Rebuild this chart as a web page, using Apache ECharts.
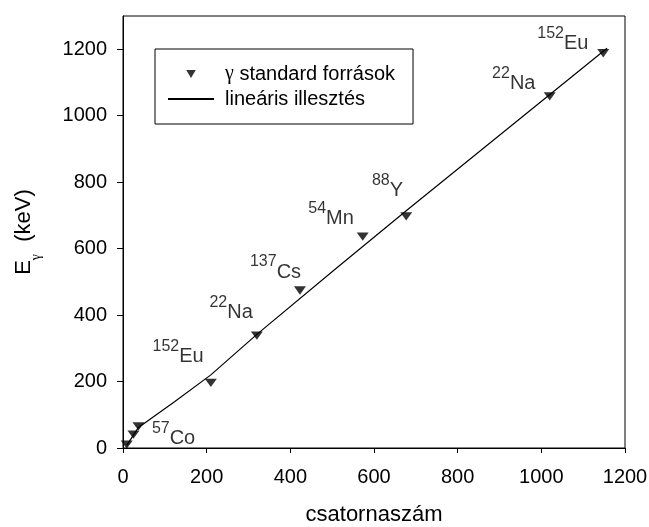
<!DOCTYPE html>
<html><head><meta charset="utf-8">
<script src="https://cdn.jsdelivr.net/npm/echarts@6/dist/echarts.min.js"></script>
<style>html,body{margin:0;padding:0;background:#fff}#c{width:649px;height:527px}</style>
</head><body><div id="c"></div>
<script>
// ---- data ----
const channels = [9, 25, 37, 210, 320, 423, 573, 677, 1020, 1148];
const energies = [10, 40, 65, 196, 338, 474, 636, 697, 1058, 1188];
const massNumbers = ['', '', '57', '152', '22', '137', '54', '88', '22', '152'];
const elements = ['', '', 'Co', 'Eu', 'Na', 'Cs', 'Mn', 'Y', 'Na', 'Eu'];
const fitChannels = [9, 37, 124, 210, 320, 507, 677, 1157];
const fitEnergies = [8, 62, 140, 220, 342, 538, 714, 1203];
const xTicks = [0, 200, 400, 600, 800, 1000, 1200];
const yTicks = [0, 200, 400, 600, 800, 1000, 1200];
const seriesNames = ['γ standard források', 'lineáris illesztés'];
const xName = 'csatornaszám';
const yNameParts = ['E', 'γ', '  (keV)'];

// ---- layout / style ----
const labelOffsets = [null, null, [13.4, -5.7], [-58.3, -44], [-47.4, -40.7], [-50, -36.4],
  [-54.4, -35.7], [-34.3, -43.4], [-57.6, -30.7], [-66, -28]];
const FONT = 'Liberation Sans';
const SERIF = 'Liberation Serif';
const tri = 'path://M0,0L12,0L6,10Z';
const labelRich = {
  s: { fontFamily: FONT, fontSize: 16, lineHeight: 16, verticalAlign: 'top', color: '#000' },
  m: { fontFamily: FONT, fontSize: 20, lineHeight: 28, verticalAlign: 'bottom', color: '#000' }
};

const scatterData = channels.map((x, i) => {
  const item = { value: [x, energies[i]] };
  if (massNumbers[i]) {
    item.label = {
      show: true, position: 'inside', align: 'left', verticalAlign: 'top',
      offset: labelOffsets[i], rich: labelRich,
      formatter: '{s|' + massNumbers[i] + '}{m|' + elements[i] + '}'
    };
  }
  return item;
});
const fitData = fitChannels.map((x, i) => [x, fitEnergies[i]]);

const chart = echarts.init(document.getElementById('c'), null, { renderer: 'canvas' });
chart.setOption({
  animation: false,
  backgroundColor: '#fff',
  grid: {
    left: 123, right: 24, top: 16, bottom: 79, containLabel: false, outerBoundsMode: 'none',
    show: true, borderColor: '#000', borderWidth: 1, backgroundColor: 'transparent'
  },
  legend: {
    orient: 'vertical', left: 155, top: 49,
    padding: [15, 18, 15, 12],
    borderColor: '#000', borderWidth: 1,
    itemWidth: 46, itemHeight: 8, itemGap: 5,
    selectedMode: false,
    data: [
      { name: seriesNames[0], icon: tri },
      { name: seriesNames[1], itemStyle: { color: 'rgba(0,0,0,0)', borderColor: 'rgba(0,0,0,0)', borderWidth: 0 } }
    ],
    textStyle: {
      fontFamily: FONT, fontSize: 20, color: '#000', padding: [0, 0, 0, 6],
      rich: { g: { fontFamily: SERIF, fontSize: 20, color: '#000' } }
    },
    formatter: n => n.charAt(0) === 'γ' ? '{g|γ}' + n.slice(1) : n
  },
  xAxis: {
    type: 'value', min: 0, max: 1200, interval: 200,
    name: xName, nameLocation: 'middle', nameGap: 56,
    nameTextStyle: { fontFamily: FONT, fontSize: 22, color: '#000' },
    axisLine: { show: true, lineStyle: { color: '#000', width: 1 } },
    axisTick: { show: true, inside: false, length: 5, lineStyle: { color: '#000' }, customValues: xTicks },
    axisLabel: { margin: 19, fontFamily: FONT, fontSize: 20, color: '#000', customValues: xTicks, formatter: v => String(v) },
    splitLine: { show: false }
  },
  yAxis: {
    type: 'value', min: 0, max: 1300, interval: 200,
    name: '{m|' + yNameParts[0] + '}{g|' + yNameParts[1] + '}{m|' + yNameParts[2] + '}',
    nameLocation: 'middle', nameGap: 80, nameRotate: 90,
    nameTextStyle: {
      fontFamily: FONT, fontSize: 22, color: '#000',
      rich: {
        m: { fontFamily: FONT, fontSize: 22, lineHeight: 22, verticalAlign: 'top', color: '#000' },
        g: { fontFamily: SERIF, fontSize: 14, lineHeight: 30, verticalAlign: 'bottom', color: '#000' }
      }
    },
    axisLine: { show: true, lineStyle: { color: '#000', width: 1 } },
    axisTick: { show: true, inside: false, length: 6, lineStyle: { color: '#000' }, customValues: yTicks },
    axisLabel: { margin: 16, fontFamily: FONT, fontSize: 20, color: '#000', customValues: yTicks, formatter: v => String(v) },
    splitLine: { show: false }
  },
  series: [
    {
      name: seriesNames[0], type: 'scatter', symbol: tri, symbolSize: [12, 10], symbolKeepAspect: true,
      itemStyle: { color: '#000' }, z: 3,
      emphasis: { disabled: true },
      label: { show: false },
      data: scatterData
    },
    {
      name: seriesNames[1], type: 'line', symbol: 'none', showSymbol: false,
      lineStyle: { color: '#000', width: 1.2 }, itemStyle: { color: '#000' }, z: 2,
      emphasis: { disabled: true },
      data: fitData
    }
  ]
});
</script></body></html>
